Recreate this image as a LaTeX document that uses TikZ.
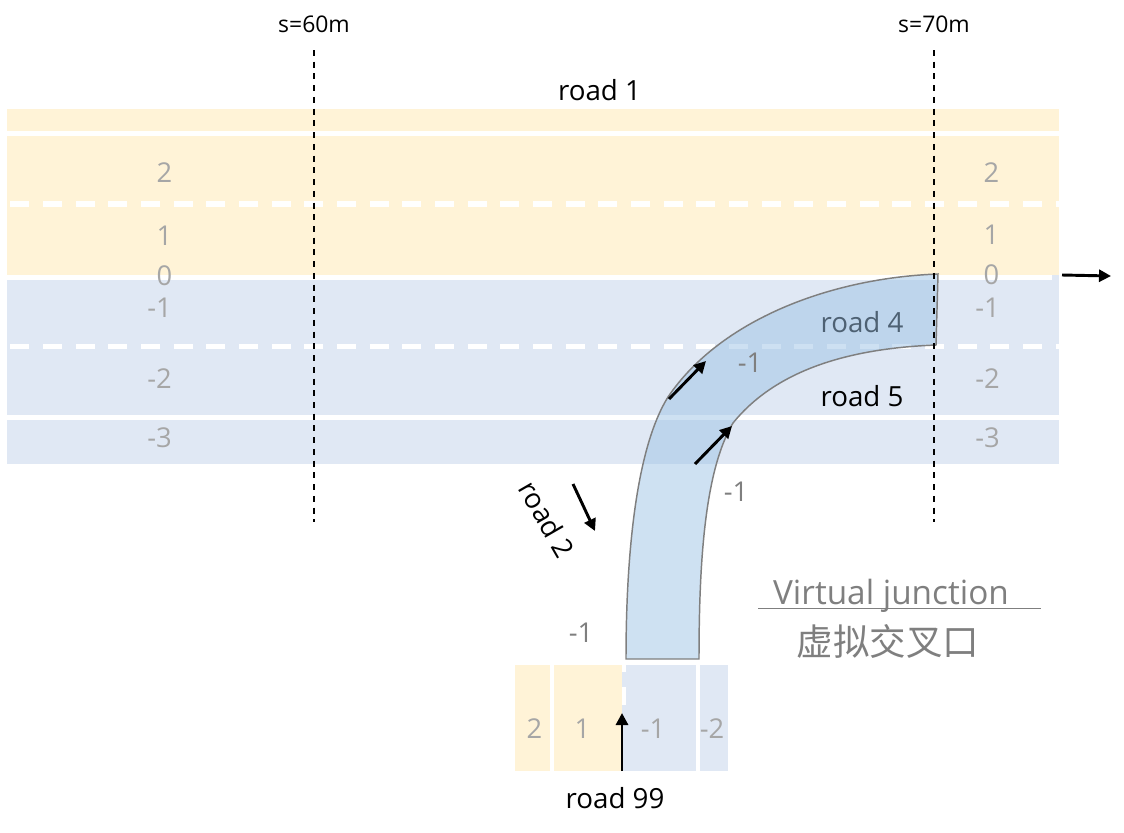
\documentclass[tikz,border=0pt]{standalone}
\usepackage{fontspec}
\setmainfont{Open Sans}
\newfontfamily\cjk{Noto Sans CJK SC}
\usetikzlibrary{arrows.meta}
\definecolor{laneY}{HTML}{FFF3D7}
\definecolor{laneB}{HTML}{E0E8F4}
\definecolor{roadB}{HTML}{9DC3E6}
\definecolor{lblA}{HTML}{A6A6A6}
\definecolor{lblB}{HTML}{7F7F7F}
\tikzset{
  yel/.style={fill=laneY,draw=none},
  blu/.style={fill=laneB,draw=none},
  wdash/.style={draw=white,line width=3.8pt,dash pattern=on 14.2pt off 10.3pt,dash phase=22pt},
  guide/.style={draw=black,line width=1.5pt,dash pattern=on 4.5pt off 4.3pt},
  lanenum/.style={text=lblA,font=\fontsize{20.5}{22}\selectfont,inner sep=0pt},
  lanedark/.style={text=lblB,font=\fontsize{20.5}{22}\selectfont,inner sep=0pt},
  roadlbl/.style={text=black,font=\fontsize{20.8}{22}\selectfont,inner sep=0pt},
  smalllbl/.style={text=black,font=\fontsize{17.2}{18}\selectfont,inner sep=0pt},
  arr/.style={draw=black,line width=2.2pt,-{Triangle[length=9pt,width=9pt]}},
}
\begin{document}
\begin{tikzpicture}[x=0.75pt,y=-0.75pt]
\useasboundingbox (0,0) rectangle (1124,832);
% road 1 lanes
\fill[yel] (7,109) rectangle (1059,131);
\fill[yel] (7,136) rectangle (1059,275);
\fill[blu] (7,280) rectangle (1059,415);
\fill[blu] (7,420) rectangle (1059,464);
\fill[blu] (1052,275) rectangle (1059,280);
\coordinate (d1a) at (7,204); \coordinate (d1b) at (1059,204);
\coordinate (d2a) at (7,346.5); \coordinate (d2b) at (1059,346.5);
\draw[wdash] (d1a) -- (d1b);
\draw[wdash] (d2a) -- (d2b);
% road 99 lanes
\fill[yel] (515,665) rectangle (550,771);
\fill[yel] (554,665) rectangle (622,771);
\fill[blu] (622,665) rectangle (696,771);
\fill[blu] (700,665) rectangle (728,771);
\fill[white] (622,665) rectangle (626,672);
\fill[white] (622,687) rectangle (626,705);
% lane numbers
\node[lanenum] (a2) at (164.5,172.5) {2};
\node[lanenum] (a1) at (164.5,235.5) {1};
\node[lanenum] (a0) at (164.5,275.5) {0};
\node[lanenum] (am1) at (159.5,307.5) {-1};
\node[lanenum] (am2) at (159.5,378.5) {-2};
\node[lanenum] (am3) at (159.5,437.5) {-3};
\node[lanenum] (b2) at (991.5,172.5) {2};
\node[lanenum] (b1) at (991.5,234.5) {1};
\node[lanenum] (b0) at (991.5,274.5) {0};
\node[lanenum] (bm1) at (987.5,307.5) {-1};
\node[lanenum] (bm2) at (987.5,378.5) {-2};
\node[lanenum] (bm3) at (987.5,437.5) {-3};
\node[lanenum] (c2) at (534.5,728.5) {2};
\node[lanenum] (c1) at (582.5,728.5) {1};
\node[lanenum] (cm1) at (653,728.5) {-1};
\node[lanenum] (cm2) at (712,728.5) {-2};
% road 4 beneath the tinted curve
\node[roadlbl] (road4) at (862,322) {road 4};
% junction road
\path[fill=roadB,fill opacity=0.5,draw=lblB,line width=1.1pt]
  (626,659) .. controls (626,560) and (635,450) .. (668,397)
  .. controls (720,320) and (830,278) .. (938,274)
  -- (936,345)
  .. controls (860,348) and (780,365) .. (733,423)
  .. controls (705,470) and (699,560) .. (699,659) -- cycle;
% guides
\coordinate (g1a) at (314,50); \coordinate (g1b) at (314,522);
\coordinate (g2a) at (934,50); \coordinate (g2b) at (934,522);
\draw[guide] (g1a) -- (g1b);
\draw[guide] (g2a) -- (g2b);
% labels
\node[smalllbl] (s60) at (314,24) {s=60m};
\node[smalllbl] (s70) at (934,24) {s=70m};
\node[roadlbl] (road1) at (599.5,90) {road 1};
\node[roadlbl] (road5) at (862,396) {road 5};
\node[roadlbl,rotate=-60] (road2) at (547,519) {road 2};
\node[roadlbl] (road99) at (615,798) {road 99};
\node[lanedark] (r4n) at (750,362.5) {-1};
\node[lanedark] (r5n) at (736,491.5) {-1};
\node[lanedark] (r2n) at (581,632.5) {-1};
\node[text=lblB,font=\fontsize{25}{28}\selectfont,inner sep=0pt] (vj) at (891,596) {Virtual junction};
\node[text=lblB,font=\cjk\fontsize{27.4}{30}\selectfont,inner sep=0pt] (vjc) at (888,641) {虚拟交叉口};
\coordinate (ula) at (758,608); \coordinate (ulb) at (1041,608);
\draw[lblB,line width=0.6pt] (ula) -- (ulb);
% arrows
\coordinate (p1) at (669,399); \coordinate (p2) at (706,361);
\coordinate (p3) at (695,464); \coordinate (p4) at (732,426);
\coordinate (p5) at (1062,275); \coordinate (p6) at (1111,276);
\coordinate (p7) at (622,771); \coordinate (p8) at (622,713);
\coordinate (p9) at (573,484); \coordinate (p10) at (595,531);
\draw[arr] (p1) -- (p2);
\draw[arr] (p3) -- (p4);
\draw[arr] (p5) -- (p6);
\draw[arr] (p7) -- (p8);
\draw[arr] (p9) -- (p10);
\end{tikzpicture}
\end{document}
